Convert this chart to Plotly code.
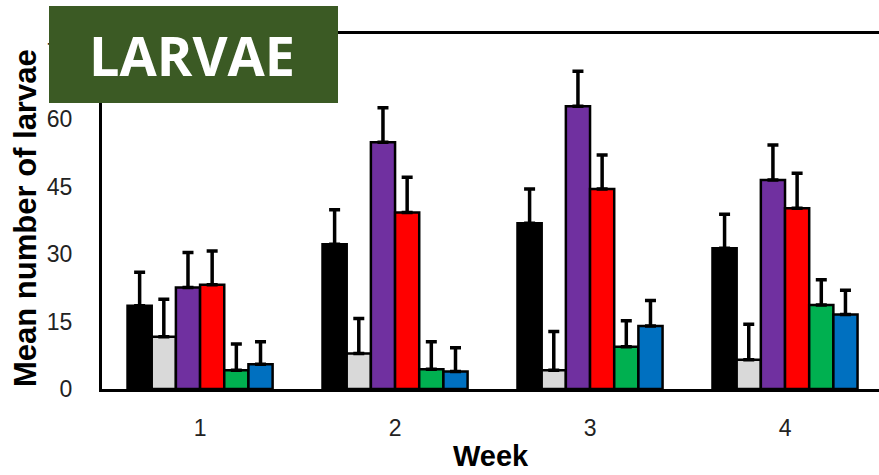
import plotly.graph_objects as go

# Mean number of larvae per week for six treatments, with upper error bars
weeks = [1, 2, 3, 4]
week_labels = ["1", "2", "3", "4"]

black_mean = [18.5, 32.2, 36.9, 31.3]
black_err = [7.5, 7.7, 7.6, 7.6]

grey_mean = [11.6, 7.9, 4.2, 6.5]
grey_err = [8.4, 7.8, 8.6, 7.9]

purple_mean = [22.6, 54.9, 62.9, 46.5]
purple_err = [7.8, 7.7, 7.8, 7.8]

red_mean = [23.2, 39.3, 44.5, 40.2]
red_err = [7.5, 7.8, 7.6, 7.8]

green_mean = [4.2, 4.4, 9.4, 18.7]
green_err = [5.8, 6.1, 5.8, 5.6]

blue_mean = [5.5, 3.9, 14.0, 16.6]
blue_err = [5.0, 5.3, 5.7, 5.4]

series = [
    (black_mean, black_err, "#000000"),
    (grey_mean, grey_err, "#d9d9d9"),
    (purple_mean, purple_err, "#7030a0"),
    (red_mean, red_err, "#ff0000"),
    (green_mean, green_err, "#00b050"),
    (blue_mean, blue_err, "#0070c0"),
]

y_ticks = [0, 15, 30, 45, 60, 75]

fig = go.Figure()
for mean, err, color in series:
    fig.add_trace(go.Bar(
        x=weeks,
        y=mean,
        marker=dict(color=color, line=dict(color="#000000", width=2.5)),
        error_y=dict(type="data", symmetric=False, array=err,
                     arrayminus=[0] * len(err),
                     color="#000000", thickness=3.5, width=5.5),
        showlegend=False,
    ))

W, H = 879, 475
L, R, T, B = 102, 0, 34, 86
pw, ph = W - L - R, H - T - B

def px_x(x):
    return (x - L) / pw

def px_y(y):
    return (H - B - y) / ph

fig.update_layout(
    width=W, height=H,
    margin=dict(l=L, r=R, t=T, b=B),
    barmode="group",
    bargap=0.256,
    bargroupgap=0,
    plot_bgcolor="white",
    paper_bgcolor="white",
    font=dict(family="Liberation Sans, Arial, sans-serif", color="#222222"),
    xaxis=dict(
        range=[0.497, 4.482],
        tickvals=weeks, ticktext=week_labels,
        tickfont=dict(size=23),
        ticks="outside", ticklen=16, tickcolor="rgba(0,0,0,0)",
        showline=True, linecolor="#000000", linewidth=3, mirror=True,
        showgrid=False, zeroline=False,
    ),
    yaxis=dict(
        range=[0, 79],
        tickvals=y_ticks,
        tickfont=dict(size=23),
        ticks="outside", ticklen=22, tickcolor="rgba(0,0,0,0)",
        showline=True, linecolor="#000000", linewidth=3,
        showgrid=False, zeroline=False,
    ),
    shapes=[dict(
        type="rect", xref="paper", yref="paper",
        x0=px_x(49), x1=px_x(338), y0=px_y(103), y1=px_y(6),
        fillcolor="#3b5a24", line=dict(width=0), layer="above",
    )],
    annotations=[
        dict(text="LARVAE", xref="paper", yref="paper",
             x=px_x(192), y=px_y(55), xanchor="center", yanchor="middle",
             showarrow=False,
             font=dict(family="Open Sans, sans-serif", size=54,
                       color="white", weight="bold")),
        dict(text="Mean number of larvae", xref="paper", yref="paper",
             x=px_x(25), y=px_y(218), xanchor="center", yanchor="middle",
             textangle=-90, showarrow=False,
             font=dict(size=31, color="#000000", weight="bold")),
        dict(text="Week", xref="paper", yref="paper",
             x=px_x(491), y=px_y(456), xanchor="center", yanchor="middle",
             showarrow=False,
             font=dict(size=29, color="#000000", weight="bold")),
    ],
)

fig.write_html("out.html")
